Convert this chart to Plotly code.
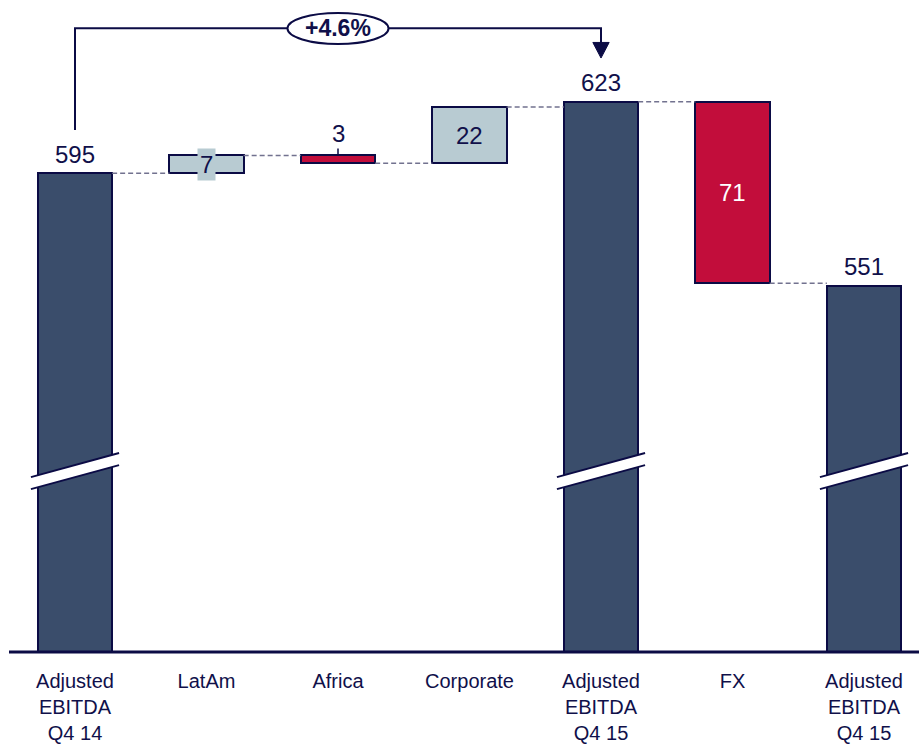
import plotly.graph_objects as go

# Bridge from Q4 14 to Q4 15 adjusted EBITDA
categories = [
    "Adjusted<br>EBITDA<br>Q4 14",
    "LatAm",
    "Africa",
    "Corporate",
    "Adjusted<br>EBITDA<br>Q4 15",
    "FX",
    "Adjusted<br>EBITDA<br>Q4 15",
]
measures = ["total", "relative", "relative", "relative", "total", "relative", "total"]
values = [595, 7, -3, 22, 623, -71, 551]
growth_label = "+4.6%"

# how each bar's value label is placed
label_mode = ["above", "boxed", "leader", "inside", "above", "inside", "above"]

NAVY = "#0b0b45"
TEXT = "#10104a"
DARK = "#3a4d6b"
LIGHT = "#b8cbd2"
RED = "#c20d3b"
DASH = "#72728f"
FONT = "Liberation Sans, Arial, sans-serif"

BAR_W = 0.565
Y_MIN, Y_MAX = 407.8, 662.8
X_MIN, X_MAX = -0.5703, 6.4182

x = list(range(len(categories)))

# running levels of the bridge
bases, heights, ends = [], [], []
level = 0
for m, v in zip(measures, values):
    if m == "total":
        bases.append(0)
        heights.append(v)
        level = v
    else:
        bases.append(level)
        heights.append(v)
        level += v
    ends.append(level)

colors = []
for m, v in zip(measures, values):
    if m == "total":
        colors.append(DARK)
    elif v >= 0:
        colors.append(LIGHT)
    else:
        colors.append(RED)

fig = go.Figure()

# dashed connectors between neighbouring bars
cx, cy = [], []
for i in range(len(x) - 1):
    cx += [x[i] + BAR_W / 2, x[i + 1] - BAR_W / 2, None]
    cy += [ends[i], ends[i], None]
fig.add_trace(go.Scatter(
    x=cx, y=cy, mode="lines", hoverinfo="skip", showlegend=False,
    line=dict(color=DASH, width=1.5, dash="5px,3px"),
))

fig.add_trace(go.Bar(
    x=x, y=heights, base=bases, width=BAR_W,
    marker=dict(color=colors, line=dict(color=NAVY, width=2)),
    hoverinfo="skip", showlegend=False,
))

annotations = []
shapes = []
VAL_SIZE = 24

for i, (m, v) in enumerate(zip(measures, values)):
    lo = min(bases[i], bases[i] + heights[i])
    hi = max(bases[i], bases[i] + heights[i])
    text = str(abs(v))
    mode = label_mode[i]
    if mode == "above":
        annotations.append(dict(x=x[i], y=hi, text=text, showarrow=False,
                                yanchor="middle", yshift=19,
                                font=dict(size=VAL_SIZE, color=TEXT, family=FONT)))
    elif mode == "inside":
        col = "white" if v < 0 else TEXT
        annotations.append(dict(x=x[i], y=(lo + hi) / 2, text=text, showarrow=False,
                                yanchor="middle",
                                font=dict(size=VAL_SIZE, color=col, family=FONT)))
    elif mode == "boxed":
        annotations.append(dict(x=x[i], y=(lo + hi) / 2, text=text, showarrow=False,
                                yanchor="middle", bgcolor=colors[i], borderpad=2,
                                font=dict(size=VAL_SIZE, color=TEXT, family=FONT)))
    elif mode == "leader":
        annotations.append(dict(x=x[i], y=hi, text=text, showarrow=True,
                                arrowhead=0, arrowwidth=1.5, arrowcolor=NAVY,
                                ax=0, ay=-22,
                                font=dict(size=VAL_SIZE, color=TEXT, family=FONT)))

# axis-break marks on the total bars
BREAK_HALF = 0.335
for i, m in enumerate(measures):
    if m != "total":
        continue
    xl, xr = x[i] - BREAK_HALF, x[i] + BREAK_HALF
    shapes.append(dict(type="path", xref="x", yref="y",
                       path=f"M {xl},471.5 L {xr},480.9 L {xr},485.6 L {xl},476.2 Z",
                       fillcolor="white", line=dict(width=0)))
    for y0, y1 in ((471.5, 480.9), (476.2, 485.6)):
        shapes.append(dict(type="line", xref="x", yref="y",
                           x0=xl, y0=y0, x1=xr, y1=y1,
                           line=dict(color=NAVY, width=2)))

# growth bracket from the first total to the second total
first_total = 0
second_total = 4
bracket_y = 651.8
shapes.append(dict(type="path", xref="x", yref="y",
                   path=(f"M {x[first_total]},{values[first_total] + 17} "
                         f"L {x[first_total]},{bracket_y} "
                         f"L {x[second_total]},{bracket_y} "
                         f"L {x[second_total]},646"),
                   line=dict(color=NAVY, width=2)))
shapes.append(dict(type="path", xref="x", yref="y",
                   path=(f"M {x[second_total] - 0.062},646.2 "
                         f"L {x[second_total] + 0.062},646.2 "
                         f"L {x[second_total]},640.1 Z"),
                   fillcolor=NAVY, line=dict(color=NAVY, width=1)))
mid = (x[first_total] + x[second_total]) / 2
shapes.append(dict(type="circle", xref="x", yref="y",
                   x0=mid - 0.384, x1=mid + 0.384, y0=645.6, y1=657.7,
                   fillcolor="white", line=dict(color=NAVY, width=2)))
annotations.append(dict(x=mid, y=651.7, text=f"<b>{growth_label}</b>", showarrow=False,
                        yanchor="middle",
                        font=dict(size=23, color=TEXT, family=FONT)))

# baseline
shapes.append(dict(type="line", xref="paper", yref="paper",
                   x0=9 / 919, x1=1, y0=0, y1=0,
                   line=dict(color=NAVY, width=3)))

fig.update_layout(
    width=919, height=745,
    margin=dict(l=0, r=0, t=0, b=93, pad=0, autoexpand=False),
    paper_bgcolor="white", plot_bgcolor="white",
    bargap=0,
    xaxis=dict(range=[X_MIN, X_MAX], tickvals=x, ticktext=categories,
               showgrid=False, zeroline=False, showline=False, ticks="",
               ticklabelstandoff=15, automargin=False,
               tickfont=dict(size=20, color=TEXT, family=FONT)),
    yaxis=dict(range=[Y_MIN, Y_MAX], visible=False, showgrid=False,
               automargin=False),
    shapes=shapes,
    annotations=annotations,
    font=dict(family=FONT, color=TEXT),
)

fig.write_html("out.html")
